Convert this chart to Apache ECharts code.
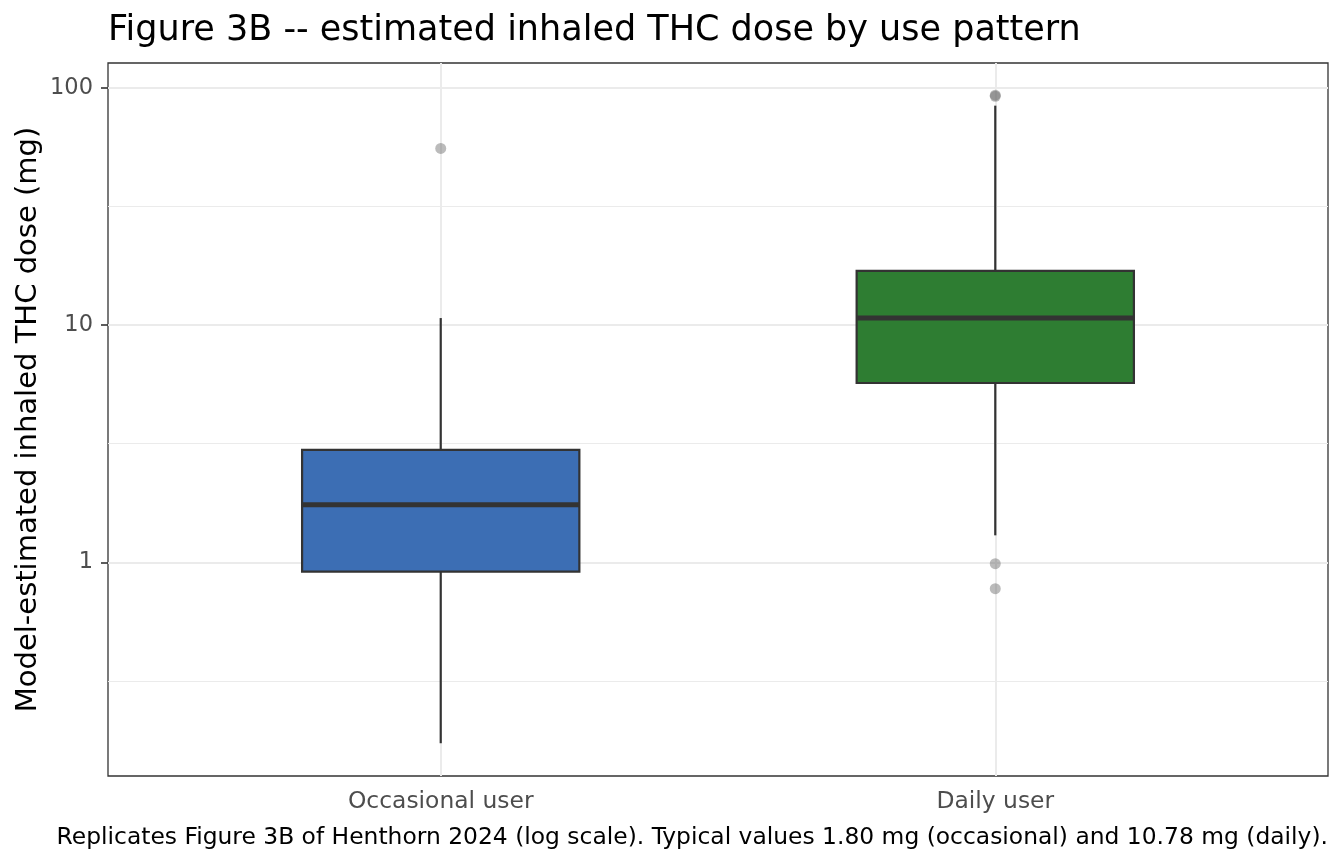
<!DOCTYPE html>
<html>
<head>
<meta charset="utf-8">
<title>Figure 3B</title>
<script src="https://cdn.jsdelivr.net/npm/echarts@6/dist/echarts.min.js"></script>
<style>
  html, body { margin: 0; padding: 0; background: #fff; }
  #main { width: 1344px; height: 864px; }
</style>
</head>
<body>
<div id="main"></div>
<script>
// box statistics in mg
var categories = ['Occasional user', 'Daily user'];
var whiskerLow = [0.173, 1.30];
var q1 = [0.915, 5.70];
var median = [1.75, 10.7];
var q3 = [2.98, 16.9];
var whiskerHigh = [10.7, 84.0];
var boxColors = ['#3C6EB4', '#2E7D32'];

// outliers: category position (1 or 2) and dose in mg
var outlierGroup = [1, 2, 2, 2, 2];
var outlierDose = [55.5, 92.0, 93.0, 0.987, 0.775];

// y ticks (major) and half-decade minor grid lines, mg
var yTicks = [1, 10, 100];
var yMinor = [0.3162, 3.162, 31.62];

var FONT = 'DejaVu Sans';
var BOX_WIDTH = 0.5;

var lg = function (v) { return Math.log10(v); };

var boxData = categories.map(function (c, i) {
    return [i + 1, lg(whiskerLow[i]), lg(q1[i]), lg(median[i]), lg(q3[i]), lg(whiskerHigh[i])];
});
var outlierData = outlierDose.map(function (v, i) {
    return [outlierGroup[i], lg(v)];
});

var gridLines = [];
yTicks.forEach(function (v) {
    gridLines.push({ yAxis: lg(v), lineStyle: { color: '#EBEBEB', width: 2, type: 'solid' } });
});
yMinor.forEach(function (v) {
    gridLines.push({ yAxis: lg(v), lineStyle: { color: '#EBEBEB', width: 1, type: 'solid' } });
});
categories.forEach(function (c, i) {
    gridLines.push({ xAxis: i + 1, lineStyle: { color: '#EBEBEB', width: 2, type: 'solid' } });
});

function renderBox(params, api) {
    var x = api.value(0);
    var lo = api.coord([x, api.value(1)]);
    var b1 = api.coord([x, api.value(2)]);
    var md = api.coord([x, api.value(3)]);
    var b3 = api.coord([x, api.value(4)]);
    var hi = api.coord([x, api.value(5)]);
    var half = api.size([BOX_WIDTH, 0])[0] / 2;
    var edge = { stroke: '#333333', lineWidth: 2.2 };
    return {
        type: 'group',
        children: [
            { type: 'line', shape: { x1: lo[0], y1: lo[1], x2: b1[0], y2: b1[1] }, style: edge },
            { type: 'line', shape: { x1: b3[0], y1: b3[1], x2: hi[0], y2: hi[1] }, style: edge },
            {
                type: 'rect',
                shape: { x: lo[0] - half, y: b3[1], width: half * 2, height: b1[1] - b3[1] },
                style: { fill: boxColors[params.dataIndex], stroke: '#333333', lineWidth: 2.2 }
            },
            {
                type: 'line',
                shape: { x1: md[0] - half, y1: md[1], x2: md[0] + half, y2: md[1] },
                style: { stroke: '#333333', lineWidth: 5 }
            }
        ]
    };
}

var myChart = echarts.init(document.getElementById('main'), null, { renderer: 'canvas' });

var option = {
    backgroundColor: '#ffffff',
    animation: false,
    textStyle: { fontFamily: FONT },
    grid: {
        left: 108, right: 16, top: 63, bottom: 88,
        show: true, borderColor: '#333333', borderWidth: 1.3, backgroundColor: 'transparent'
    },
    xAxis: {
        type: 'value',
        min: 0.4,
        max: 2.6,
        axisLine: { show: false },
        splitLine: { show: false },
        axisTick: { show: true, customValues: [1, 2], length: 7, lineStyle: { color: '#333333', width: 1.6 } },
        axisLabel: {
            customValues: [1, 2],
            formatter: function (v) { return categories[Math.round(v) - 1] || ''; },
            color: '#4D4D4D', fontSize: 23.4, fontFamily: FONT, margin: 14
        }
    },
    yAxis: {
        type: 'value',
        min: -0.9,
        max: 2.104,
        axisLine: { show: false },
        splitLine: { show: false },
        axisTick: { show: true, customValues: yTicks.map(lg), length: 7, lineStyle: { color: '#333333', width: 1.6 } },
        axisLabel: {
            customValues: yTicks.map(lg),
            formatter: function (v) { return String(Math.round(Math.pow(10, v))); },
            color: '#4D4D4D', fontSize: 22.5, fontFamily: FONT, margin: 15
        }
    },
    graphic: [
        {
            type: 'text', x: 108, y: 31,
            style: { text: 'Figure 3B -- estimated inhaled THC dose by use pattern', fill: '#000',
                font: '35px "DejaVu Sans"', textAlign: 'left', textVerticalAlign: 'middle' }
        },
        {
            type: 'text', x: 28, y: 419.5, rotation: Math.PI / 2,
            style: { text: 'Model-estimated inhaled THC dose (mg)', fill: '#000',
                font: '29px "DejaVu Sans"', textAlign: 'center', textVerticalAlign: 'middle' }
        },
        {
            type: 'text', x: 1328, y: 837.5,
            style: { text: 'Replicates Figure 3B of Henthorn 2024 (log scale). Typical values 1.80 mg (occasional) and 10.78 mg (daily).',
                fill: '#000', font: '23.4px "DejaVu Sans"', textAlign: 'right', textVerticalAlign: 'middle' }
        }
    ],
    series: [
        {
            type: 'custom',
            name: 'box',
            z: 2,
            renderItem: renderBox,
            encode: { x: 0, y: [1, 2, 3, 4, 5] },
            data: boxData,
            markLine: {
                z: 1,
                silent: true,
                symbol: 'none',
                label: { show: false },
                data: gridLines
            }
        },
        {
            type: 'scatter',
            name: 'outliers',
            z: 3,
            symbolSize: 11,
            itemStyle: { color: 'rgba(100,100,100,0.55)' },
            data: outlierData
        }
    ]
};

myChart.setOption(option);
</script>
</body>
</html>
